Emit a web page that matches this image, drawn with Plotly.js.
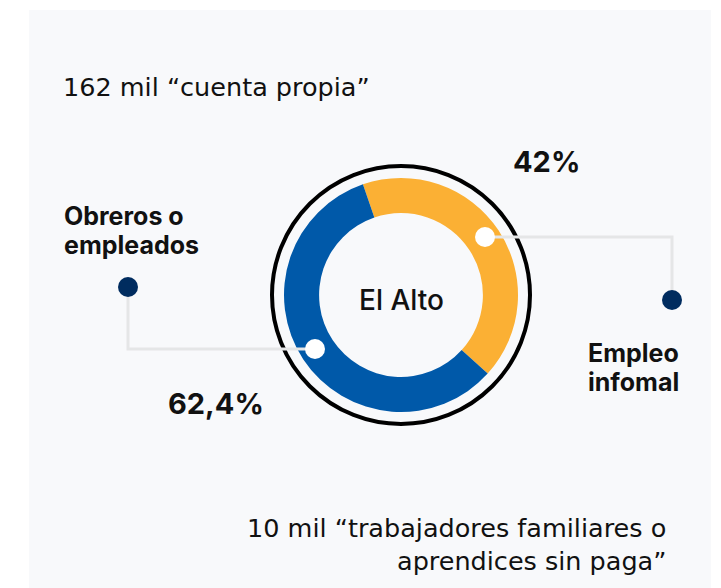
<!DOCTYPE html>
<html>
<head>
<meta charset="utf-8">
<script src="https://cdn.plot.ly/plotly-3.0.1.min.js"></script>
<style>html,body{margin:0;padding:0;background:#fff;}#chart{width:721px;height:588px;}</style>
</head>
<body>
<div id="chart"></div>
<script>
// ---- data ----
const sliceLabels = ["Empleo infomal", "Otro"];
const sliceValues = [42, 58];
const sliceColors = ["#fbb034", "#0059a9"];
const centerLabel = "El Alto";
const pctInformal = "42%";
const pctObreros = "62,4%";
const labelInformal = ["Empleo", "infomal"];
const labelObreros = ["Obreros o", "empleados"];
const noteTop = "162 mil “cuenta propia”";
const noteBottom = ["10 mil “trabajadores familiares o", "aprendices sin paga”"];

// ---- helpers (pixel -> paper) ----
const W = 721, H = 588;
const px = x => x / W;
const py = y => 1 - y / H;
const FONT = "Inter, 'Open Sans', sans-serif";
const FONT_REG = "'DejaVu Sans', Inter, sans-serif";
const cx = 401, cy = 295, R = 117;

const trace = {
  type: "pie",
  labels: sliceLabels,
  values: sliceValues,
  marker: {colors: sliceColors, line: {width: 0}},
  hole: 0.70,
  sort: false,
  direction: "clockwise",
  rotation: -19,
  textinfo: "none",
  hoverinfo: "label+value",
  showlegend: false,
  domain: {x: [px(cx - R), px(cx + R)], y: [py(cy + R), py(cy - R)]}
};

function circ(x, y, r, fill, line) {
  return {type: "circle", xref: "paper", yref: "paper",
    x0: px(x - r), x1: px(x + r), y0: py(y + r), y1: py(y - r),
    fillcolor: fill, line: line || {width: 0}, layer: "above"};
}
function path(pts) {
  let d = pts.map((p, i) => (i ? "L" : "M") + px(p[0]) + "," + py(p[1])).join(" ");
  return {type: "path", xref: "paper", yref: "paper", path: d,
    line: {color: "#e5e6e7", width: 3}, layer: "above"};
}

const shapes = [
  {type: "rect", xref: "paper", yref: "paper", x0: px(29), x1: px(711), y0: 0, y1: py(10),
   fillcolor: "#f8f9fb", line: {width: 0}, layer: "below"},
  circ(cx, cy, 129, "rgba(0,0,0,0)", {color: "#000", width: 4}),
  path([[485, 237], [672, 237], [672, 300]]),
  path([[128, 287], [128, 349], [315, 349]]),
  circ(485, 237, 10, "#ffffff"),
  circ(315, 349, 10, "#ffffff"),
  circ(672, 300, 10, "#002c5f"),
  circ(128, 287, 10, "#002c5f")
];

function ann(text, x, y, size, weight, anchor, fam) {
  return {text: text, xref: "paper", yref: "paper", x: px(x), y: py(y),
    xanchor: anchor || "left", yanchor: "middle", showarrow: false,
    font: {family: fam || FONT, size: size, color: "#111", weight: weight || 400}};
}

const annotations = [
  ann(noteTop, 61, 87, 25.5, 400, "left", FONT_REG),
  ann(pctInformal, 511, 162, 29, 700),
  ann(pctObreros, 166, 403, 29, 700),
  ann(labelObreros[0], 62, 216, 25, 700),
  ann(labelObreros[1], 62, 245, 25, 700),
  ann(labelInformal[0], 586, 353, 25, 700),
  ann(labelInformal[1], 586, 382, 25, 700),
  ann(centerLabel, cx, 300, 28, 500, "center"),
  ann(noteBottom[0], 668, 528, 25.5, 400, "right", FONT_REG),
  ann(noteBottom[1], 668, 561, 25.5, 400, "right", FONT_REG)
];

const layout = {
  width: W, height: H,
  margin: {l: 0, r: 0, t: 0, b: 0},
  paper_bgcolor: "#ffffff",
  shapes: shapes,
  annotations: annotations,
  showlegend: false
};

Plotly.newPlot("chart", [trace], layout, {displayModeBar: false, staticPlot: false});
</script>
</body>
</html>
